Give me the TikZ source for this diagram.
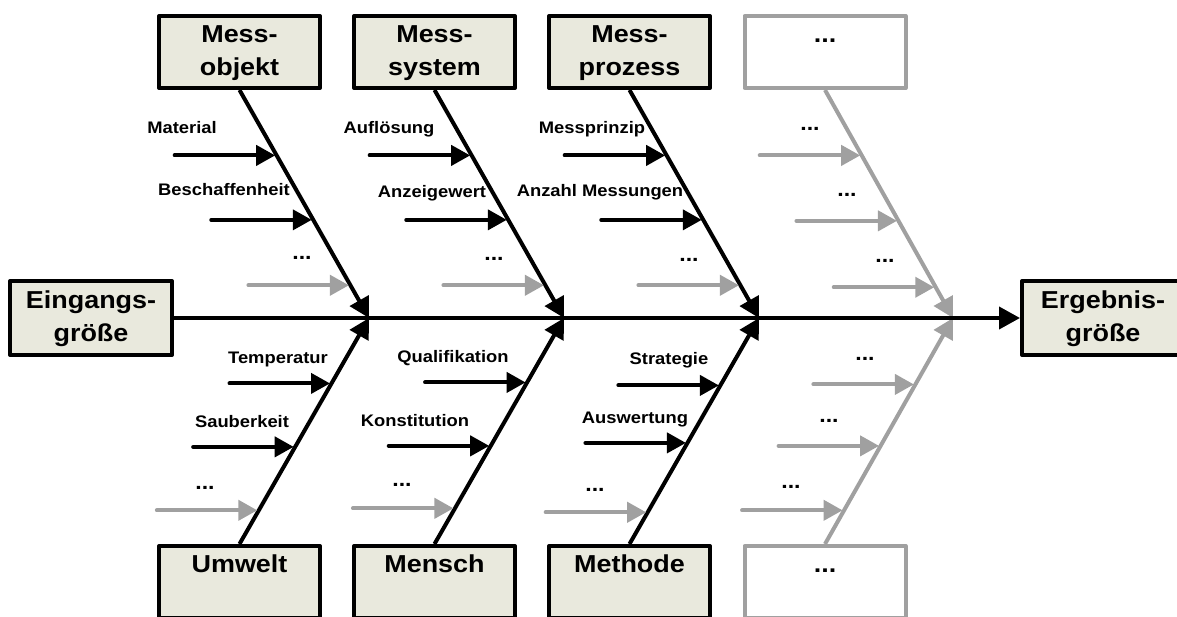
\documentclass[tikz,border=0pt]{standalone}
\usepackage{fontspec}
\setmainfont[FakeStretch=1.1]{Liberation Sans}
\usetikzlibrary{arrows.meta,calc}
\definecolor{boxfill}{HTML}{E9E9DD}
\definecolor{ghost}{HTML}{A0A0A0}
\tikzset{
  causebox/.style={draw=black, fill=boxfill, line width=4pt, line join=round,
    minimum width=161pt, minimum height=72pt, inner sep=0pt, align=center,
    font=\fontsize{24.5}{33}\selectfont\bfseries},
  ghostbox/.style={causebox, draw=ghost, fill=white},
  bone/.style={line width=4pt, -{Triangle[length=20pt,width=21pt]}},
  ghostbone/.style={bone, draw=ghost, fill=ghost},
  sub/.style={line width=4pt, line cap=round, shorten >=1.5pt,
    -{Triangle[length=19pt,width=20pt]}},
  ghostsub/.style={sub, draw=ghost, fill=ghost},
  spine/.style={line width=4pt, -{Triangle[length=21pt,width=22pt]}},
  lbl/.style={font=\fontsize{16.7}{20}\selectfont\bfseries, anchor=base, inner sep=0pt},
  dots/.style={lbl, font=\fontsize{21}{24}\selectfont\bfseries},
}
\begin{document}
\begin{tikzpicture}[x=1pt, y=-1pt]
\useasboundingbox (0,0) rectangle (1177,617);
\clip (0,0) rectangle (1177,617);

% spine junctions
\coordinate (j1) at (369,318);
\coordinate (j2) at (564,318);
\coordinate (j3) at (759,318);
\coordinate (j4) at (953,318);

% cause boxes above the spine
\node[causebox] (top1) at (239.5,52) {Mess-\strut\\objekt\strut};
\node[causebox] (top2) at (434.5,52) {Mess-\strut\\system\strut};
\node[causebox] (top3) at (629.5,52) {Mess-\strut\\prozess\strut};
\node[ghostbox] (top4) at (825,52) {...\strut\\\strut};

% cause boxes below the spine
\node[causebox] (bot1) at (239.5,582) {Umwelt\strut\\\strut};
\node[causebox] (bot2) at (434.5,582) {Mensch\strut\\\strut};
\node[causebox] (bot3) at (629.5,582) {Methode\strut\\\strut};
\node[ghostbox] (bot4) at (825,582) {...\strut\\\strut};

% input and result
\node[causebox, minimum width=162pt, minimum height=74pt] (in) at (91,318) {Eingangs-\strut\\größe\strut};
\node[causebox, minimum width=162pt, minimum height=74pt] (out) at (1103,318) {Ergebnis-\strut\\größe\strut};

% main bones
\foreach \c in {1,2,3} {
  \draw[bone] (top\c.south) -- (j\c);
  \draw[bone] (bot\c.north) -- (j\c);
}
\draw[ghostbone] (top4.south) -- (j4);
\draw[ghostbone] (bot4.north) -- (j4);

% minor causes above the spine
\foreach \c/\k/\y/\st in {1/a/154/sub,1/b/219/sub,1/c/285/ghostsub,
                          2/a/154/sub,2/b/219/sub,2/c/285/ghostsub,
                          3/a/154/sub,3/b/219/sub,3/c/285/ghostsub,
                          4/a/154/ghostsub,4/b/220/ghostsub,4/c/287/ghostsub} {
  \coordinate (tip-t\c\k) at ($(top\c.south)!{(\y-88)/230}!(j\c)$);
  \coordinate (tail-t\c\k) at ($(tip-t\c\k)+(-102,0)$);
  \draw[\st] (tail-t\c\k) -- (tip-t\c\k);
}

% minor causes below the spine
\foreach \c/\k/\y/\st in {1/a/384/sub,1/b/448/sub,1/c/512/ghostsub,
                          2/a/383/sub,2/b/447/sub,2/c/510/ghostsub,
                          3/a/386/sub,3/b/444/sub,3/c/514/ghostsub,
                          4/a/385/ghostsub,4/b/447/ghostsub,4/c/512/ghostsub} {
  \coordinate (tip-b\c\k) at ($(bot\c.north)!{(546-\y)/228}!(j\c)$);
  \coordinate (tail-b\c\k) at ($(tip-b\c\k)+(-102,0)$);
  \draw[\st] (tail-b\c\k) -- (tip-b\c\k);
}

% spine
\draw[spine] (in.east) -- (out.west);

% labels of the minor causes
\node[lbl] (l1a) at (182,134) {Material};
\node[lbl] (l1b) at (224,196) {Beschaffenheit};
\node[dots] (l1c) at (302,260) {...};
\node[lbl] (l2a) at (389,134) {Auflösung};
\node[lbl] (l2b) at (432,198) {Anzeigewert};
\node[dots] (l2c) at (494,261) {...};
\node[lbl] (l3a) at (592,134) {Messprinzip};
\node[lbl] (l3b) at (600,197) {Anzahl Messungen};
\node[dots] (l3c) at (689,262) {...};
\node[dots] (l4a) at (810,131) {...};
\node[dots] (l4b) at (847,197) {...};
\node[dots] (l4c) at (885,263) {...};

\node[lbl] (m1a) at (278,363) {Temperatur};
\node[lbl] (m1b) at (242,427) {Sauberkeit};
\node[dots] (m1c) at (205,489) {...};
\node[lbl] (m2a) at (453,362) {Qualifikation};
\node[lbl] (m2b) at (415,426) {Konstitution};
\node[dots] (m2c) at (402,486) {...};
\node[lbl] (m3a) at (669,364) {Strategie};
\node[lbl] (m3b) at (635,423) {Auswertung};
\node[dots] (m3c) at (595,491) {...};
\node[dots] (m4a) at (865,360) {...};
\node[dots] (m4b) at (829,422) {...};
\node[dots] (m4c) at (791,488) {...};
\end{tikzpicture}
\end{document}
